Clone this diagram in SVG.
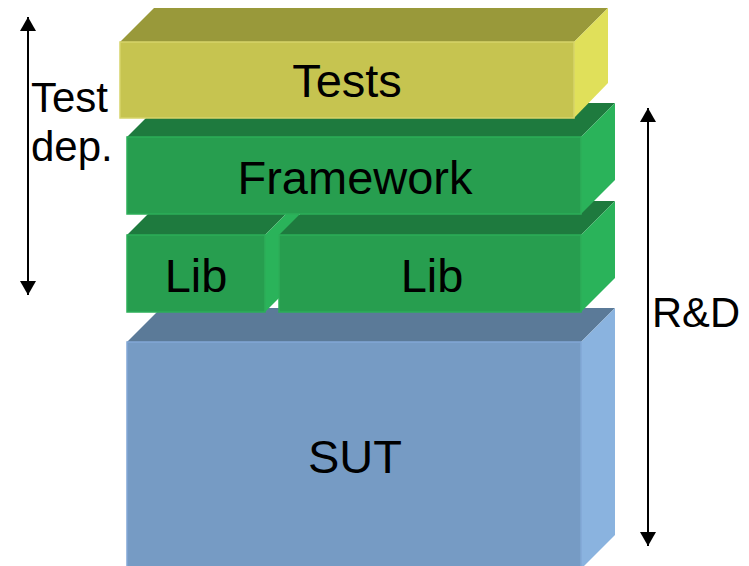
<svg xmlns="http://www.w3.org/2000/svg" width="749" height="566" viewBox="0 0 749 566">
<defs>
<style>
text{font-family:"Liberation Sans",Arial,sans-serif;fill:#000}
.lbl{font-size:47px;text-anchor:middle}
.side{font-size:42px}
.yf{fill:#c6c450;stroke:#d6d46a;stroke-width:1.5}
.yt{fill:#99993a}
.yr{fill:#e0e05a}
.gf{fill:#279e4f;stroke:#2cae58;stroke-width:1.5}
.gt{fill:#1e7a3e}
.gr{fill:#2ab35a}
.bf{fill:#769bc4;stroke:#82a8d6;stroke-width:1.5}
.bt{fill:#5b7a98}
.br{fill:#8ab3df}
.conn{stroke:#000;stroke-width:2;fill:none}
</style>
<marker id="ah" viewBox="0 0 14 16" refX="14" refY="8" markerWidth="14" markerHeight="16" markerUnits="userSpaceOnUse" orient="auto-start-reverse">
<path d="M0,0 L14,8 L0,16 Z" fill="#000"/>
</marker>
</defs>
<g id="sut">
<polygon class="bt" points="127,342 161,308 615,308 581,342"/>
<polygon class="br" points="581,342 615,308 615,535 581,569"/>
<rect class="bf" x="127" y="342" width="454" height="227"/>
<text class="lbl" x="355" y="473">SUT</text>
</g>
<g id="lib1">
<polygon class="gt" points="127,235 161,201 299,201 265,235"/>
<polygon class="gr" points="265,235 299,201 299,278 265,312"/>
<rect class="gf" x="127" y="235" width="138" height="77"/>
<text class="lbl" x="196" y="292">Lib</text>
</g>
<g id="lib2">
<polygon class="gt" points="279,235 313,201 615,201 581,235"/>
<polygon class="gr" points="581,235 615,201 615,278 581,312"/>
<rect class="gf" x="279" y="235" width="302" height="77"/>
<text class="lbl" x="432" y="292">Lib</text>
</g>
<g id="framework">
<polygon class="gt" points="127,137 161,103 615,103 581,137"/>
<polygon class="gr" points="581,137 615,103 615,180 581,214"/>
<rect class="gf" x="127" y="137" width="454" height="77"/>
<text class="lbl" x="355" y="194">Framework</text>
</g>
<g id="tests">
<polygon class="yt" points="120,42 154,8 608,8 574,42"/>
<polygon class="yr" points="574,42 608,8 608,83 574,118"/>
<rect class="yf" x="120" y="42" width="454" height="76"/>
<text class="lbl" x="347" y="97">Tests</text>
</g>
<g id="connectors">
<line class="conn" x1="28" y1="17" x2="28" y2="295" marker-start="url(#ah)" marker-end="url(#ah)"/>
<line class="conn" x1="648" y1="108" x2="648" y2="546" marker-start="url(#ah)" marker-end="url(#ah)"/>
</g>
<g id="test-dep-label">
<text class="side" x="31" y="112">Test</text>
<text class="side" x="31" y="161">dep.</text>
</g>
<g id="rd-label">
<text class="side" x="652" y="327" font-size="44" textLength="88" lengthAdjust="spacingAndGlyphs">R&amp;D</text>
</g>
</svg>
